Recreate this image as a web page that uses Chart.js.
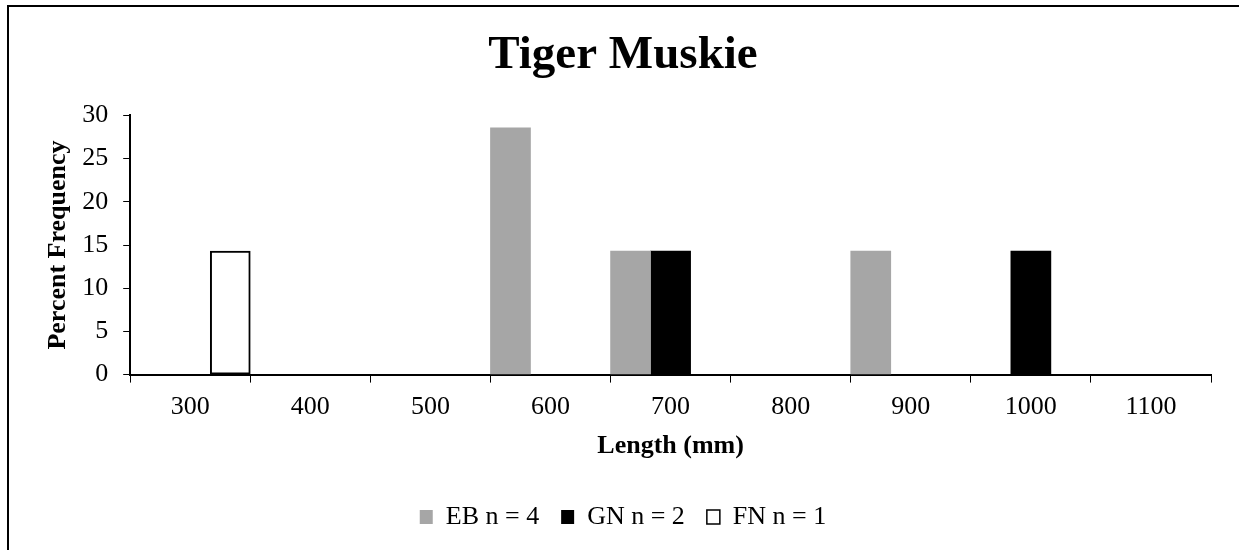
<!DOCTYPE html>
<html>
<head>
<meta charset="utf-8">
<script src="https://cdn.jsdelivr.net/npm/chart.js@4"></script>
<style>
  html, body { margin: 0; padding: 0; background: #fff; }
  #wrap { width: 1239px; height: 550px; position: relative; }
</style>
</head>
<body>
<div id="wrap"><canvas id="chart"></canvas></div>
<script>
// Datos
const lengths = ["300", "400", "500", "600", "700", "800", "900", "1000", "1100"];
const ebValues = [null, null, null, 28.57, 14.29, null, 14.29, null, null];
const gnValues = [null, null, null, null, 14.29, null, null, 14.29, null];
const fnValues = [14.29, null, null, null, null, null, null, null, null];
const yTicks = [0, 5, 10, 15, 20, 25, 30];

const serif = "'Liberation Serif', 'Times New Roman', serif";

// Marco exterior (arriba e izquierda)
const framePlugin = {
  id: "frame",
  afterDraw(chart) {
    const ctx = chart.ctx;
    ctx.save();
    ctx.strokeStyle = "#000";
    ctx.lineWidth = 2;
    ctx.beginPath();
    ctx.moveTo(8, chart.height);
    ctx.lineTo(8, 6);
    ctx.lineTo(chart.width, 6);
    ctx.stroke();
    ctx.restore();
  }
};

new Chart(document.getElementById("chart"), {
  type: "bar",
  data: {
    labels: lengths,
    datasets: [
      { label: "EB n = 4", data: ebValues, backgroundColor: "#a6a6a6", borderWidth: 0 },
      { label: "GN n = 2", data: gnValues, backgroundColor: "#000000", borderWidth: 0 },
      { label: "FN n = 1", data: fnValues, backgroundColor: "#ffffff", borderColor: "#000000", borderWidth: 2, borderSkipped: false }
    ]
  },
  options: {
    responsive: true,
    maintainAspectRatio: false,
    animation: false,
    datasets: { bar: { categoryPercentage: 1, barPercentage: 1 } },
    layout: { padding: { left: 35, right: 28, top: 0, bottom: 10 } },
    scales: {
      x: {
        grid: { drawOnChartArea: false, color: "#000", tickLength: 8, offset: true },
        border: { color: "#000", width: 2 },
        ticks: { color: "#000", font: { family: serif, size: 26 }, padding: 9 },
        title: { display: true, text: "Length (mm)", color: "#000", font: { family: serif, size: 26, weight: "bold" }, padding: { top: -1, bottom: 20 } }
      },
      y: {
        min: 0,
        max: 30,
        afterBuildTicks: (axis) => { axis.ticks = yTicks.map(v => ({ value: v })); },
        grid: { drawOnChartArea: false, color: "#000", tickLength: 7 },
        border: { color: "#000", width: 2 },
        ticks: { color: "#000", font: { family: serif, size: 26 }, padding: 15 },
        title: { display: true, text: "Percent Frequency", color: "#000", font: { family: serif, size: 26, weight: "bold" }, padding: { top: 8, bottom: -7 } }
      }
    },
    plugins: {
      title: {
        display: true,
        text: "Tiger Muskie",
        color: "#000",
        font: { family: serif, size: 47, weight: "bold" },
        padding: { top: 28, bottom: 31 }
      },
      legend: {
        position: "bottom",
        labels: {
          color: "#000",
          font: { family: serif, size: 26 },
          boxWidth: 13,
          boxHeight: 14,
          padding: 22,
          generateLabels: (chart) => chart.data.datasets.map((ds, i) => ({
            text: ds.label,
            fillStyle: ds.backgroundColor,
            strokeStyle: "#000",
            lineWidth: i === 2 ? 1.5 : 0,
            fontColor: "#000",
            datasetIndex: i
          }))
        }
      },
      tooltip: { enabled: false }
    }
  },
  plugins: [framePlugin]
});
</script>
</body>
</html>
